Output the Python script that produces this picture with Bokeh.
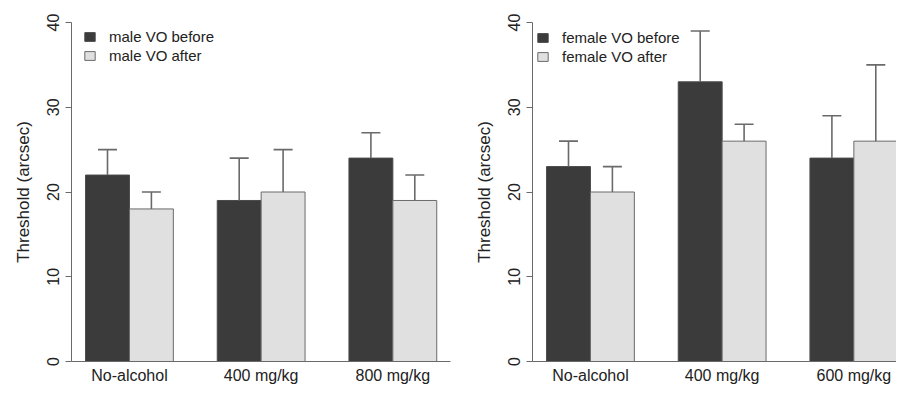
from bokeh.plotting import figure
from bokeh.models import (ColumnDataSource, FixedTicker, Range1d, Whisker, TeeHead,
                          Legend, LegendItem)
from bokeh.layouts import row
from bokeh.embed import file_html
from bokeh.resources import INLINE

# ---- data ----
male_groups = ["No-alcohol", "400 mg/kg", "800 mg/kg"]
male_before = [22, 19, 24]
male_before_err = [3, 5, 3]
male_after = [18, 20, 19]
male_after_err = [2, 5, 3]

female_groups = ["No-alcohol", "400 mg/kg", "600 mg/kg"]
female_before = [23, 33, 24]
female_before_err = [3, 6, 5]
female_after = [20, 26, 26]
female_after_err = [3, 2, 9]

y_ticks = [0, 10, 20, 30, 40]

DARK = "#3b3b3b"
LIGHT = "#e0e0e0"
LINE = "#6a6a6a"
FONT = "Liberation Sans"
PX_PER_UNIT = 43.9


def panel(groups, before, b_err, after, a_err, names, width, border_left,
          border_right, legend_xy):
    n = len(groups)
    xb = [1.5 + 3 * i for i in range(n)]
    xa = [2.5 + 3 * i for i in range(n)]
    centers = [2 + 3 * i for i in range(n)]
    frame_w = width - border_left - border_right
    p = figure(width=width, height=386, output_backend="svg",
               toolbar_location=None,
               x_range=Range1d(0.68, 0.68 + frame_w / PX_PER_UNIT),
               y_range=Range1d(0, 40), min_border_left=border_left,
               min_border_right=border_right, min_border_top=22,
               min_border_bottom=24)
    p.outline_line_color = None
    p.xgrid.visible = False
    p.ygrid.visible = False
    p.background_fill_color = "white"
    p.border_fill_color = "white"

    sb = ColumnDataSource(dict(x=xb, top=before, up=[v + e for v, e in zip(before, b_err)]))
    sa = ColumnDataSource(dict(x=xa, top=after, up=[v + e for v, e in zip(after, a_err)]))
    rb = p.vbar(x="x", top="top", bottom=0, width=1, source=sb,
                fill_color=DARK, line_color="#4a4a4a", line_width=1)
    ra = p.vbar(x="x", top="top", bottom=0, width=1, source=sa,
                fill_color=LIGHT, line_color=LINE, line_width=1)
    for s in (sb, sa):
        w = Whisker(source=s, base="x", lower="top", upper="up", dimension="height",
                    line_color=LINE, line_width=1.6, level="overlay",
                    upper_head=TeeHead(size=19, line_color=LINE, line_width=1.6),
                    lower_head=None)
        p.add_layout(w)

    # axes
    p.yaxis.ticker = FixedTicker(ticks=y_ticks)
    p.yaxis.major_label_orientation = "vertical"
    p.yaxis.minor_tick_line_color = None
    p.yaxis.major_tick_in = 0
    p.yaxis.major_tick_out = 6
    p.yaxis.major_tick_line_color = LINE
    p.yaxis.axis_line_color = LINE
    p.yaxis.major_label_text_font = FONT
    p.yaxis.major_label_text_font_size = "16px"
    p.yaxis.major_label_text_color = "#222222"
    p.yaxis.major_label_standoff = 7
    p.yaxis.axis_label = "Threshold (arcsec)"
    p.yaxis.axis_label_text_font = FONT
    p.yaxis.axis_label_text_font_size = "17px"
    p.yaxis.axis_label_text_font_style = "normal"
    p.yaxis.axis_label_text_color = "#222222"
    p.yaxis.axis_label_standoff = 11

    p.xaxis.ticker = FixedTicker(ticks=centers)
    p.xaxis.major_label_overrides = {c: g for c, g in zip(centers, groups)}
    p.xaxis.major_tick_line_color = None
    p.xaxis.major_tick_out = 0
    p.xaxis.major_tick_in = 0
    p.xaxis.minor_tick_line_color = None
    p.xaxis.minor_tick_out = 0
    p.xaxis.axis_line_color = LINE
    p.xaxis.major_label_text_font = FONT
    p.xaxis.major_label_text_font_size = "16px"
    p.xaxis.major_label_text_color = "#222222"
    p.xaxis.major_label_standoff = 5

    legend = Legend(items=[LegendItem(label=names[0], renderers=[rb]),
                           LegendItem(label=names[1], renderers=[ra])],
                    location=legend_xy, padding=0, margin=0, spacing=2,
                    glyph_width=13, glyph_height=11, label_height=17,
                    label_standoff=13, border_line_color=None,
                    background_fill_alpha=0,
                    label_text_font=FONT, label_text_font_size="15px",
                    label_text_color="#222222")
    p.add_layout(legend)
    return p


p1 = panel(male_groups, male_before, male_before_err, male_after, male_after_err,
           ["male VO before", "male VO after"], 454, 71, 4, (12, 297))
p2 = panel(female_groups, female_before, female_before_err, female_after,
           female_after_err, ["female VO before", "female VO after"], 442, 78, 0,
           (4, 296))

layout = row(p1, p2)
open("out.html", "w").write(file_html(layout, INLINE))
